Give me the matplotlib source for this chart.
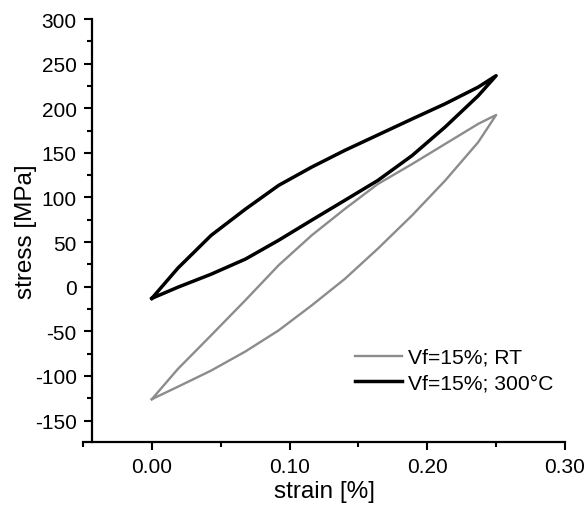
import matplotlib
matplotlib.use("Agg")
import matplotlib.pyplot as plt
from matplotlib.ticker import MultipleLocator, FixedLocator

plt.rcParams['font.family'] = ['Liberation Sans', 'DejaVu Sans']
plt.rcParams['axes.unicode_minus'] = False

# Data
strain_up = [0.0, 0.019, 0.043, 0.068, 0.092, 0.116, 0.140, 0.164, 0.189, 0.213, 0.237, 0.250]
strain_down = [0.250, 0.237, 0.213, 0.189, 0.164, 0.140, 0.116, 0.092, 0.068, 0.043, 0.019, 0.0]

rt_up = [-126, -92, -54.5, -15, 24, 57.5, 87, 115, 137.5, 160, 182.5, 192.5]
rt_down = [192.5, 162, 119, 80, 42.5, 8.6, -21, -49, -72.5, -94, -112, -126]

ht_up = [-13, 21, 57.5, 87, 113.5, 134, 152.7, 170, 188, 205, 223.7, 236.5]
ht_down = [236.5, 214, 179, 147, 119, 96.7, 74.5, 52, 31, 14, -0.5, -13]

labels = ["Vf=15%; RT", "Vf=15%; 300°C"]
x_ticks = [0.0, 0.1, 0.2, 0.3]
x_ticklabels = ["0.00", "0.10", "0.20", "0.30"]
y_ticks = [-150, -100, -50, 0, 50, 100, 150, 200, 250, 300]

fig = plt.figure(figsize=(5.87, 5.06), dpi=100)
ax = fig.add_axes([83/587, 1 - 443/506, 482/587, 423/506])

ax.plot(strain_up + strain_down, rt_up + rt_down,
        color='#8c8c8c', lw=1.7, label=labels[0], solid_joinstyle='round')
ax.plot(strain_up + strain_down, ht_up + ht_down,
        color='black', lw=2.5, label=labels[1], solid_joinstyle='round')

ax.set_xlim(-0.05, 0.30)
ax.set_ylim(-174, 300)

ax.spines['top'].set_visible(False)
ax.spines['right'].set_visible(False)
ax.spines['left'].set_position(('data', -0.0435))
for s in ('left', 'bottom'):
    ax.spines[s].set_linewidth(1.6)

ax.xaxis.set_major_locator(FixedLocator(x_ticks))
ax.set_xticklabels(x_ticklabels)
ax.xaxis.set_minor_locator(FixedLocator([-0.05, 0.05, 0.15, 0.25]))
ax.yaxis.set_major_locator(FixedLocator(y_ticks))
ax.yaxis.set_minor_locator(MultipleLocator(25))

ax.tick_params(which='both', direction='out', width=1.5, labelsize=15, colors='black')
ax.tick_params(which='major', length=6, pad=5)
ax.tick_params(which='minor', length=3.5)

ax.set_xlabel("strain [%]", fontsize=17.5, labelpad=3)
ax.set_ylabel("stress [MPa]", fontsize=17.5, labelpad=-2)

ax.legend(loc='center left', bbox_to_anchor=(0.564, 0.170), frameon=False,
          fontsize=15.2, handlelength=2.25, handletextpad=0.25, borderaxespad=0,
          borderpad=0, labelspacing=0.3)

fig.savefig("out.png", dpi=100)
